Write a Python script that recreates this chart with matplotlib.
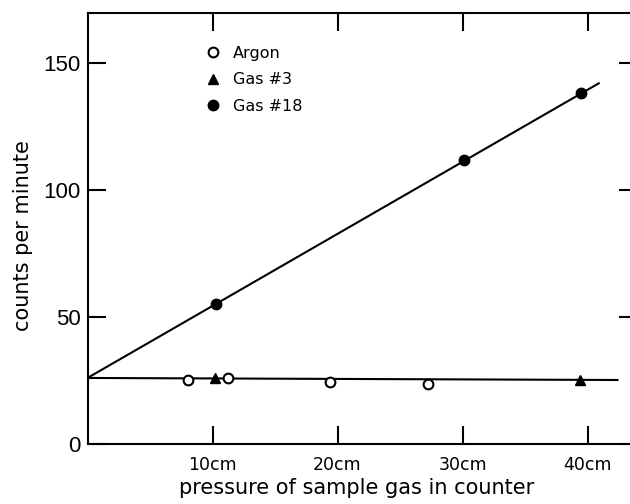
import matplotlib
matplotlib.use("Agg")
import matplotlib.pyplot as plt

# Data
argon_x = [8.0, 11.2, 19.4, 27.2]
argon_y = [25.2, 26.0, 24.6, 23.8]
gas3_x = [10.2, 39.4]
gas3_y = [26.0, 25.3]
gas18_x = [10.3, 30.1, 39.5]
gas18_y = [55.0, 112.0, 138.0]
fit18_x = [0.0, 40.9]
fit18_y = [26.0, 142.0]
flat_x = [0.0, 42.4]
flat_y = [26.0, 25.2]

xticks = [10, 20, 30, 40]
xticklabels = ["10cm", "20cm", "30cm", "40cm"]
yticks = [0, 50, 100, 150]
yticklabels = ["0", "50", "100", "150"]

plt.rcParams['font.family'] = ['DejaVu Sans']

W, H = 630, 504
fig = plt.figure(figsize=(W/100, H/100), dpi=100)
left_px, right_px, top_px, bot_px = 87.5, 637.0, 13.0, 444.0
aw, ah = right_px - left_px, bot_px - top_px
ax = fig.add_axes([left_px/W, 1 - bot_px/H, aw/W, ah/H])

ax.plot(fit18_x, fit18_y, color='black', lw=1.5, zorder=2)
ax.plot(flat_x, flat_y, color='black', lw=1.5, zorder=2)
ax.plot(argon_x, argon_y, 'o', ms=7, mfc='white', mec='black', mew=1.5, ls='none', label='Argon', zorder=3)
ax.plot(gas3_x, gas3_y, '^', ms=7.5, color='black', ls='none', label='Gas #3', zorder=3)
ax.plot(gas18_x, gas18_y, 'o', ms=7.5, color='black', ls='none', label='Gas #18', zorder=3)

ax.set_xlim(0, aw/12.5)
ax.set_ylim(0, ah/2.54)

ax.set_xticks(xticks)
ax.set_xticklabels(xticklabels)
ax.set_yticks(yticks)
ax.set_yticklabels(yticklabels)
ax.tick_params(direction='in', length=13, width=1.5, top=True, right=True, colors='black')
ax.tick_params(axis='x', labelsize=12.5, pad=9)
ax.tick_params(axis='y', labelsize=16, pad=5)
for lab in ax.get_yticklabels():
    lab.set_family(['Liberation Sans', 'DejaVu Sans'])
for s in ax.spines.values():
    s.set_linewidth(1.5)

ax.set_xlabel("pressure of sample gas in counter", fontsize=15)
ax.xaxis.set_label_coords((356.5-left_px)/aw, -(478-bot_px)/ah)
ax.set_ylabel("counts per minute", fontsize=15)
ax.yaxis.set_label_coords(-(left_px-33)/aw, (bot_px-236)/ah)

leg = ax.legend(loc='upper left', bbox_to_anchor=((205-left_px)/aw, 1-(46-top_px)/ah),
                frameon=False, fontsize=11.5, handlelength=1.0, handletextpad=0.75,
                labelspacing=0.72, borderaxespad=0, borderpad=0)

fig.savefig("out.png", dpi=100)
